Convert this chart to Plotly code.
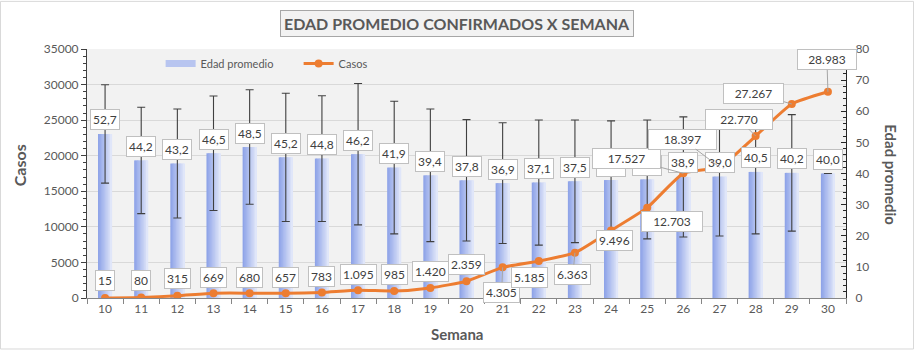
import plotly.graph_objects as go

# ---------------- DATA ----------------
semanas = [str(w) for w in range(10, 31)]
edad_promedio = [52.7, 44.2, 43.2, 46.5, 48.5, 45.2, 44.8, 46.2, 41.9, 39.4, 37.8,
                 36.9, 37.1, 37.5, 37.9, 38.1, 38.9, 39.0, 40.5, 40.2, 40.0]
edad_desv = [15.8, 17.1, 17.5, 18.4, 18.4, 20.6, 20.2, 22.7, 21.3, 21.3, 19.5,
             19.4, 20.1, 19.7, 19.0, 19.1, 19.3, 19.1, 19.9, 18.7, None]
casos = [15, 80, 315, 669, 680, 657, 783, 1095, 985, 1420, 2359,
         4305, 5185, 6363, 9496, 12703, 17527, 18397, 22770, 27267, 28983]

# ---------------- LABEL PLACEMENT (pixels, style only) ----------------
casos_dx = [0, 0, 0, 0, 0, 0, 0, 0, 0, 0, 0, -1, -9, -2, 3, 25, -57, -37, -17, -38, -1]
casos_dy = [-17, -17, -17, -16, -16, -16, -16, -16, -16, -16, -17, 25, 16, 22, 10, 14, -15, -28, -17, -11, -32]
casos_leader = [False] * 11 + [True, False, True, False, False, True, True, True, True, True]
casos_boxw = [None] * 15 + [56, 63, 63, 62, 55, 54]
# edad labels covered by the "17.527" box in the original (only the box edge shows)
edad_label_covered = [False] * 14 + [True, True] + [False] * 5

# ---------------- STYLE ----------------
FONT = "Lato, 'Open Sans', sans-serif"
TXT = "#595959"
LBL = "#404040"
ORANGE = "#ED7D31"
BAR_W = 0.39
N_STRIPS = 10
C0 = (143, 164, 232)
C1 = (224, 230, 249)

fig = go.Figure()

# gradient bars (strips)
for i in range(N_STRIPS):
    t = i / (N_STRIPS - 1)
    col = "rgb({},{},{})".format(*[round(a + (b - a) * t) for a, b in zip(C0, C1)])
    sw = BAR_W / N_STRIPS
    w = sw * 1.6 if i < N_STRIPS - 1 else sw
    fig.add_trace(go.Bar(
        x=semanas, y=edad_promedio, width=w, offset=-BAR_W / 2 + i * sw,
        marker=dict(color=col, line=dict(width=0)), yaxis="y",
        showlegend=False, hoverinfo="skip"))

# error bars for edad
fig.add_trace(go.Scatter(
    x=semanas, y=edad_promedio, mode="markers",
    marker=dict(size=1, color="rgba(0,0,0,0)"),
    error_y=dict(type="data", array=edad_desv, color="#404040", thickness=1.1, width=4),
    yaxis="y", showlegend=False, hoverinfo="skip"))

# legend proxy for bars
fig.add_trace(go.Scatter(
    x=[None], y=[None], mode="lines", name="Edad promedio",
    line=dict(color="#b8c5f0", width=7), yaxis="y"))

# casos line
fig.add_trace(go.Scatter(
    x=semanas, y=casos, mode="lines+markers", name="Casos",
    line=dict(color=ORANGE, width=3, shape="spline", smoothing=0.5),
    marker=dict(size=8, color=ORANGE), yaxis="y2"))

ann = []
# edad labels (x given as category index)
for i, (v, cov) in enumerate(zip(edad_promedio, edad_label_covered)):
    d = dict(
        x=i, y=v, xref="x", yref="y", yshift=14, showarrow=False,
        text=f"{v:.1f}".replace(".", ","),
        font=dict(family=FONT, size=12, color=LBL),
        bgcolor="white", bordercolor="#c0c0c0", borderwidth=1, borderpad=2)
    if cov:
        d.update(text=" ", width=24, height=15)
    ann.append(d)

# casos labels
for i, (v, dx, dy, lead, bw) in enumerate(zip(casos, casos_dx, casos_dy, casos_leader, casos_boxw)):
    d = dict(x=i, y=v, xref="x", yref="y2",
             text=f"{v:,}".replace(",", "."),
             font=dict(family=FONT, size=12, color=LBL),
             bgcolor="white", bordercolor="#c0c0c0", borderwidth=1, borderpad=2)
    if bw:
        d["width"] = bw
    if lead:
        d.update(showarrow=True, arrowhead=0, arrowwidth=1, arrowcolor="#a6a6a6",
                 ax=dx, ay=dy, axref="pixel", ayref="pixel")
    else:
        d.update(showarrow=False, xshift=dx, yshift=-dy)
    ann.append(d)

# title & axis titles
PW, PH = 759, 250.0
ann.append(dict(
    x=(457 - 87) / PW, y=(298.3 - 22.5) / PH, xref="paper", yref="paper",
    xanchor="center", yanchor="middle", showarrow=False,
    text="<b>EDAD PROMEDIO CONFIRMADOS X SEMANA</b>",
    font=dict(family=FONT, size=16, color=TXT),
    bgcolor="#f2f2f2", bordercolor="#a6a6a6", borderwidth=1, borderpad=3))
ann.append(dict(
    x=(19 - 87) / PW, y=(298.3 - 165) / PH, xref="paper", yref="paper",
    xanchor="center", yanchor="middle", showarrow=False, textangle=-90,
    text="<b>Casos</b>", font=dict(family=FONT, size=16, color=TXT)))
ann.append(dict(
    x=(891 - 87) / PW, y=(298.3 - 174) / PH, xref="paper", yref="paper",
    xanchor="center", yanchor="middle", showarrow=False, textangle=90,
    text="<b>Edad promedio</b>", font=dict(family=FONT, size=15, color=TXT)))
ann.append(dict(
    x=(457 - 87) / PW, y=(298.3 - 334) / PH, xref="paper", yref="paper",
    xanchor="center", yanchor="middle", showarrow=False,
    text="<b>Semana</b>", font=dict(family=FONT, size=15, color=TXT)))

fig.update_layout(
    width=914, height=350,
    margin=dict(l=87, r=68, t=49, b=52, autoexpand=False),
    paper_bgcolor="white", plot_bgcolor="#f2f2f2",
    barmode="overlay", separators=",.",
    font=dict(family=FONT, size=11, color=TXT),
    xaxis=dict(type="category", range=[-0.5, 20.5], ticks="outside", tickson="boundaries",
               ticklen=5, tickcolor="#868686", showline=True, linecolor="#868686",
               showgrid=False, tickfont=dict(size=12, color=TXT)),
    yaxis=dict(side="right", range=[0, 80], dtick=10, ticks="inside", ticklen=5,
               tickcolor="#262626", showline=True, linecolor="#262626", showgrid=False,
               zeroline=False, ticklabelstandoff=6, tickfont=dict(size=12, color=TXT),
               minor=dict(dtick=2, ticks="inside", ticklen=3, tickcolor="#262626")),
    yaxis2=dict(side="left", overlaying="y", range=[0, 35000], dtick=5000, tickformat="d",
                ticks="outside", ticklen=5, tickcolor="#404040", showline=True,
                linecolor="#404040", showgrid=True, gridcolor="#d9d9d9", zeroline=False,
                tickfont=dict(size=12, color=TXT),
                minor=dict(dtick=1000, ticks="outside", ticklen=3, tickcolor="#404040")),
    legend=dict(orientation="h", x=0.097, y=1.0, xanchor="left", yanchor="top",
                bgcolor="rgba(0,0,0,0)", font=dict(size=11, color=TXT),
                entrywidth=93, entrywidthmode="pixels"),
    annotations=ann,
    shapes=[dict(type="rect", xref="paper", yref="paper",
                 x0=(0.5 - 87) / PW, x1=(913.5 - 87) / PW,
                 y0=(298.3 - 349.5) / PH, y1=(298.3 - 0.5) / PH,
                 line=dict(color="#d9d9d9", width=1), layer="below")],
)

fig.write_html("out.html")
